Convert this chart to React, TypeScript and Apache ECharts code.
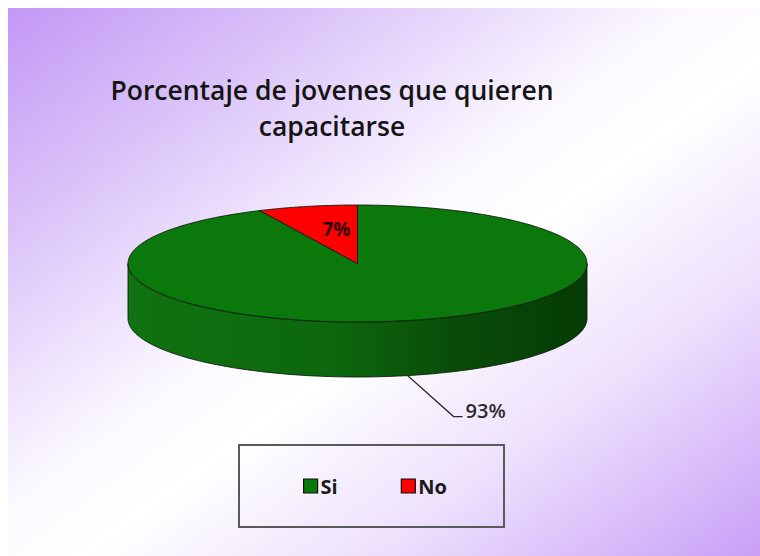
import React, { useEffect, useRef } from "react";
import * as echarts from "echarts";

const titleLines = ["Porcentaje de jovenes que quieren", "capacitarse"];
const categories = ["Si", "No"];
const values = [93, 7];
const labelModes = ["outside", "inside"];

const topColors = ["#0b780b", "#ff0000"];
const sideStops = [
  ["#107210", "#0d670d", "#094d09", "#053b05"],
  ["#d00000", "#b00000", "#900000", "#700000"],
];

const CX = 357.5;
const CY = 263.5;
const RX = 229.5;
const RY = 58.5;
const DEPTH = 55;
const FONT = "'Open Sans', Lato, sans-serif";

function pt(theta: number, dy = 0): number[] {
  return [CX + RX * Math.sin(theta), CY - RY * Math.cos(theta) + dy];
}

function arcPoints(a: number, b: number, dy = 0): number[][] {
  const n = Math.max(2, Math.ceil(((b - a) * 180) / Math.PI));
  const pts: number[][] = [];
  for (let k = 0; k <= n; k++) pts.push(pt(a + ((b - a) * k) / n, dy));
  return pts;
}

export default function App() {
  const ref = useRef<HTMLDivElement>(null);

  useEffect(() => {
    document.body.style.margin = "0";
    if (!ref.current) return;
    const chart = echarts.init(ref.current, undefined, { renderer: "svg" });
    const total = values.reduce((s, v) => s + v, 0);
    const cum: number[] = [];
    values.reduce((s, v, i) => {
      cum[i] = s;
      return s + v;
    }, 0);

    const series = categories.map((name, i) => ({
      type: "custom",
      name,
      coordinateSystem: "none",
      data: [values[i]],
      itemStyle: { color: topColors[i] },
      renderItem: (params: any, api: any) => {
        const v = api.value(0);
        const start = (cum[i] / total) * Math.PI * 2;
        const end = ((cum[i] + v) / total) * Math.PI * 2;
        const children: any[] = [];
        const a = Math.max(start, Math.PI / 2);
        const b = Math.min(end, (Math.PI * 3) / 2);
        if (a < b) {
          const pts = arcPoints(a, b).concat(arcPoints(a, b, DEPTH).reverse());
          const st = sideStops[i];
          children.push({
            type: "polygon",
            z2: 1,
            shape: { points: pts },
            style: {
              fill: new echarts.graphic.LinearGradient(
                CX - RX, 0, CX + RX, 0,
                [
                  { offset: 0, color: st[0] },
                  { offset: 0.45, color: st[1] },
                  { offset: 0.7, color: st[2] },
                  { offset: 1, color: st[3] },
                ],
                true
              ),
              stroke: "rgba(10,25,10,0.85)",
              lineWidth: 1,
            },
          });
        }
        const top = [[CX, CY]].concat(arcPoints(start, end));
        children.push({
          type: "polygon",
          z2: 10,
          shape: { points: top },
          style: { fill: topColors[i], stroke: "rgba(10,25,10,0.85)", lineWidth: 1 },
        });
        const mid = (start + end) / 2;
        const label = `${v}%`;
        if (labelModes[i] === "inside") {
          children.push({
            type: "text",
            z2: 20,
            x: CX + RX * 0.42 * Math.sin(mid),
            y: CY - RY * 0.6 * Math.cos(mid),
            style: {
              text: label,
              fill: "#2a0505",
              font: `bold 19px ${FONT}`,
              align: "center",
              verticalAlign: "middle",
            },
          });
        } else {
          const an = pt(mid, DEPTH);
          const p1 = [an[0] + 46, an[1] + 41];
          const p2 = [p1[0] + 9, p1[1]];
          children.push({
            type: "polyline",
            z2: 20,
            shape: { points: [an, p1, p2] },
            style: { stroke: "#2a2a2a", lineWidth: 1.3, fill: "none" },
          });
          children.push({
            type: "text",
            z2: 20,
            x: p2[0] + 3,
            y: p2[1] - 6,
            style: {
              text: label,
              fill: "#2a2a2a",
              font: `600 20px ${FONT}`,
              align: "left",
              verticalAlign: "middle",
            },
          });
        }
        return { type: "group", children };
      },
    }));

    chart.setOption({
      animation: false,
      backgroundColor: "#ffffff",
      graphic: [
        {
          type: "rect",
          z: -10,
          shape: { x: 8, y: 8, width: 752, height: 548 },
          style: {
            fill: new echarts.graphic.LinearGradient(0, 0, 1, 1, [
              { offset: 0, color: "#c397f6" },
              { offset: 0.22, color: "#dcc6f9" },
              { offset: 0.45, color: "#fbf8ff" },
              { offset: 0.55, color: "#ffffff" },
              { offset: 0.75, color: "#ecdffc" },
              { offset: 1, color: "#c99ff7" },
            ]),
          },
        },
        {
          type: "text",
          z: 5,
          x: 332,
          y: 72,
          style: {
            text: titleLines.join("\n"),
            fill: "#141414",
            font: `600 26.5px ${FONT}`,
            lineHeight: 36,
            align: "center",
            verticalAlign: "top",
          },
        },
        {
          type: "rect",
          z: 5,
          shape: { x: 239, y: 445, width: 265, height: 82 },
          style: { fill: "rgba(255,255,255,0)", stroke: "#5a5a5a", lineWidth: 2 },
        },
      ],
      legend: {
        data: categories,
        left: 298,
        top: 471,
        icon: "rect",
        itemWidth: 14,
        itemHeight: 14,
        itemGap: 63,
        itemStyle: { borderColor: "#111", borderWidth: 1.2 },
        textStyle: { fontFamily: FONT, fontWeight: "bold", fontSize: 20, color: "#1a1a1a", padding: [0, 0, 0, -2] },
      },
      series,
    });
    return () => chart.dispose();
  }, []);

  return <div ref={ref} style={{ width: 760, height: 556 }} />;
}
